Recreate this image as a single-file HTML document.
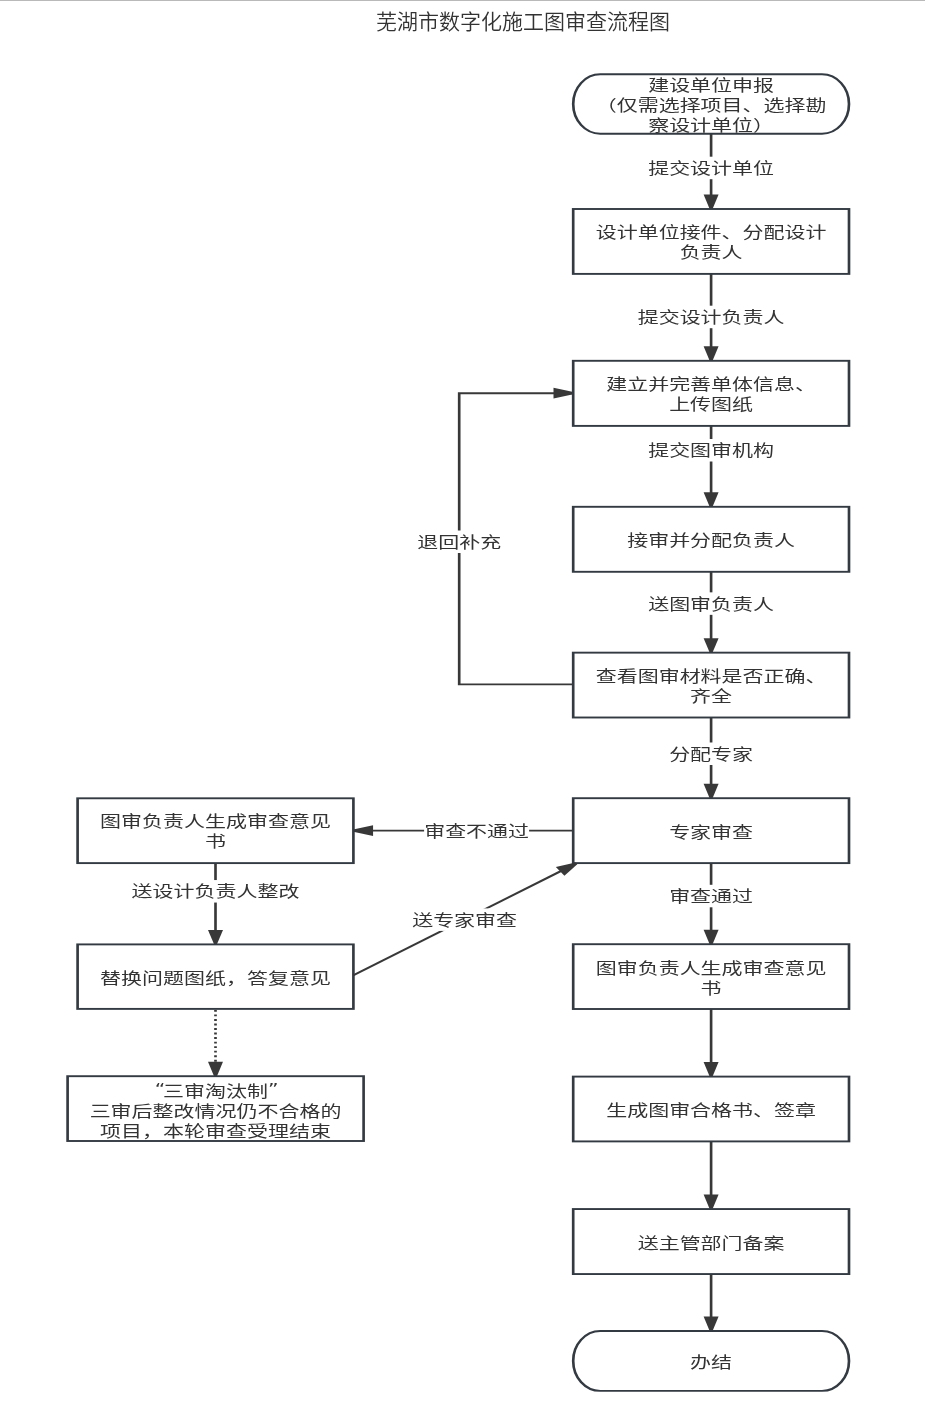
<!DOCTYPE html>
<html lang="zh-CN">
<head>
<meta charset="utf-8">
<title>芜湖市数字化施工图审查流程图</title>
<style>
html,body{margin:0;padding:0;background:#fff;}
body{width:925px;height:1403px;position:relative;overflow:hidden;font-family:"Liberation Sans","Noto Sans CJK SC",sans-serif;}
.topline{position:absolute;left:0;top:0;width:925px;height:1px;background:#b9b9b9;}
h1{position:absolute;left:0;top:6px;width:1046px;margin:0;text-align:center;font-weight:350;font-size:21px;line-height:31px;color:#333;will-change:transform;}
svg{position:absolute;left:0;top:0;filter:blur(0.35px);}
svg .q{font-family:"DejaVu Sans","Liberation Sans",sans-serif;font-size:15px;letter-spacing:-1.6px;}
svg text{font-family:"Liberation Sans","Noto Sans CJK SC",sans-serif;font-size:15.5px;fill:#333333;text-anchor:middle;font-weight:400;}
</style>
</head>
<body>
<div class="topline"></div>
<h1>芜湖市数字化施工图审查流程图</h1>
<svg width="925" height="1403" viewBox="0 0 925 1403">
<g transform="scale(1.4 1)">
<path d="M507.929 133.7 L507.929 208.1" fill="none" stroke="#383838" stroke-width="1.9"/>
<path d="M506.829 208.7 L502.579 194.5 L513.279 194.5 L509.029 208.7 Z" fill="#383838"/>
<path d="M507.929 273.9 L507.929 359.9" fill="none" stroke="#383838" stroke-width="1.9"/>
<path d="M506.829 360.5 L502.579 346.3 L513.279 346.3 L509.029 360.5 Z" fill="#383838"/>
<path d="M507.929 425.9 L507.929 505.9" fill="none" stroke="#383838" stroke-width="1.9"/>
<path d="M506.829 506.5 L502.579 492.3 L513.279 492.3 L509.029 506.5 Z" fill="#383838"/>
<path d="M507.929 571.8 L507.929 651.75" fill="none" stroke="#383838" stroke-width="1.9"/>
<path d="M506.829 652.35 L502.579 638.15 L513.279 638.15 L509.029 652.35 Z" fill="#383838"/>
<path d="M507.929 717.5 L507.929 797.3" fill="none" stroke="#383838" stroke-width="1.9"/>
<path d="M506.829 797.9 L502.579 783.7 L513.279 783.7 L509.029 797.9 Z" fill="#383838"/>
<path d="M507.929 863.1 L507.929 943.3" fill="none" stroke="#383838" stroke-width="1.9"/>
<path d="M506.829 943.9 L502.579 929.7 L513.279 929.7 L509.029 943.9 Z" fill="#383838"/>
<path d="M507.929 1009.0 L507.929 1075.7" fill="none" stroke="#383838" stroke-width="1.9"/>
<path d="M506.829 1076.3 L502.579 1062.1 L513.279 1062.1 L509.029 1076.3 Z" fill="#383838"/>
<path d="M507.929 1141.4 L507.929 1208.15" fill="none" stroke="#383838" stroke-width="1.9"/>
<path d="M506.829 1208.75 L502.579 1194.55 L513.279 1194.55 L509.029 1208.75 Z" fill="#383838"/>
<path d="M507.929 1274.05 L507.929 1330.1" fill="none" stroke="#383838" stroke-width="1.9"/>
<path d="M506.829 1330.7 L502.579 1316.5 L513.279 1316.5 L509.029 1330.7 Z" fill="#383838"/>
<path d="M409.429 684.4 L328.0 684.4 L328.0 393.2 L408.971 393.2" fill="none" stroke="#383838" stroke-width="1.9"/>
<path d="M409.571 394.3 L395.371 398.55 L395.371 387.85 L409.571 392.1 Z" fill="#383838"/>
<path d="M409.429 830.6 L252.886 830.6" fill="none" stroke="#383838" stroke-width="1.9"/>
<path d="M252.286 829.5 L266.486 825.25 L266.486 835.95 L252.286 831.7 Z" fill="#383838"/>
<path d="M153.929 863.1 L153.929 943.5" fill="none" stroke="#383838" stroke-width="1.9"/>
<path d="M152.829 944.1 L148.579 929.9 L159.279 929.9 L155.029 944.1 Z" fill="#383838"/>
<path d="M153.929 1008.9 L153.929 1075.3" fill="none" stroke="#383838" stroke-width="1.9" stroke-dasharray="1.9 2.63" stroke-dashoffset="3.5"/>
<path d="M152.829 1075.9 L148.579 1061.7 L159.279 1061.7 L155.029 1075.9 Z" fill="#383838"/>
<rect x="409.429" y="74.3" width="197.0" height="59.4" rx="19.286" ry="29.7" fill="#fff" stroke="#333a42" stroke-width="1.9"/>
<rect x="409.429" y="209.0" width="197.0" height="64.9" fill="#fff" stroke="#333a42" stroke-width="1.9"/>
<rect x="409.429" y="360.8" width="197.0" height="65.1" fill="#fff" stroke="#333a42" stroke-width="1.9"/>
<rect x="409.429" y="506.8" width="197.0" height="65.0" fill="#fff" stroke="#333a42" stroke-width="1.9"/>
<rect x="409.429" y="652.65" width="197.0" height="64.85" fill="#fff" stroke="#333a42" stroke-width="1.9"/>
<rect x="409.429" y="798.2" width="197.0" height="64.9" fill="#fff" stroke="#333a42" stroke-width="1.9"/>
<rect x="409.429" y="944.2" width="197.0" height="64.8" fill="#fff" stroke="#333a42" stroke-width="1.9"/>
<rect x="409.429" y="1076.6" width="197.0" height="64.8" fill="#fff" stroke="#333a42" stroke-width="1.9"/>
<rect x="409.429" y="1209.05" width="197.0" height="65.0" fill="#fff" stroke="#333a42" stroke-width="1.9"/>
<rect x="409.429" y="1331.0" width="197.0" height="59.9" rx="19.286" ry="29.95" fill="#fff" stroke="#333a42" stroke-width="1.9"/>
<rect x="55.429" y="798.3" width="197.0" height="64.8" fill="#fff" stroke="#333a42" stroke-width="1.9"/>
<rect x="55.429" y="944.4" width="197.0" height="64.5" fill="#fff" stroke="#333a42" stroke-width="1.9"/>
<rect x="48.286" y="1076.2" width="211.429" height="64.8" fill="#fff" stroke="#333a42" stroke-width="1.9"/>
<path d="M252.429 975.3 L411.223 863.645" fill="none" stroke="#383838" stroke-width="1.9"/>
<path d="M412.347 864.2 L403.176 875.844 L397.021 867.091 L411.082 862.4 Z" fill="#383838"/>
<rect x="462.929" y="156.7" width="90.0" height="22.5" fill="#fff"/>
<rect x="455.429" y="305.7" width="105.0" height="22.5" fill="#fff"/>
<rect x="462.929" y="439.0" width="90.0" height="22.5" fill="#fff"/>
<rect x="462.929" y="592.35" width="90.0" height="22.5" fill="#fff"/>
<rect x="477.929" y="742.5" width="60.0" height="22.5" fill="#fff"/>
<rect x="477.929" y="884.8" width="60.0" height="22.5" fill="#fff"/>
<rect x="298.0" y="530.5" width="60.0" height="22.5" fill="#fff"/>
<rect x="302.929" y="819.5" width="75.0" height="22.5" fill="#fff"/>
<rect x="294.357" y="908.4" width="75.0" height="22.5" fill="#fff"/>
<rect x="93.929" y="880.05" width="120.0" height="22.5" fill="#fff"/>
</g>
<g class="t">
<text transform="translate(711.1 90.9) scale(1.3548 1)">建设单位申报</text>
<text transform="translate(711.1 110.9) scale(1.3548 1)">（仅需选择项目、选择勘</text>
<text transform="translate(711.1 130.9) scale(1.3548 1)">察设计单位）</text>
<text transform="translate(711.1 238.3) scale(1.3548 1)">设计单位接件、分配设计</text>
<text transform="translate(711.1 258.3) scale(1.3548 1)">负责人</text>
<text transform="translate(711.1 390.2) scale(1.3548 1)">建立并完善单体信息、</text>
<text transform="translate(711.1 410.2) scale(1.3548 1)">上传图纸</text>
<text transform="translate(711.1 545.9) scale(1.3548 1)">接审并分配负责人</text>
<text transform="translate(711.1 681.7) scale(1.3548 1)">查看图审材料是否正确、</text>
<text transform="translate(711.1 701.7) scale(1.3548 1)">齐全</text>
<text transform="translate(711.1 837.8) scale(1.3548 1)">专家审查</text>
<text transform="translate(711.1 973.5) scale(1.3548 1)">图审负责人生成审查意见</text>
<text transform="translate(711.1 993.5) scale(1.3548 1)">书</text>
<text transform="translate(711.1 1115.9) scale(1.3548 1)">生成图审合格书、签章</text>
<text transform="translate(711.1 1249.4) scale(1.3548 1)">送主管部门备案</text>
<text transform="translate(711.1 1368.3) scale(1.3548 1)">办结</text>
<text transform="translate(215.5 827.4) scale(1.3548 1)">图审负责人生成审查意见</text>
<text transform="translate(215.5 847.4) scale(1.3548 1)">书</text>
<text transform="translate(215.5 984.4) scale(1.3548 1)">替换问题图纸，答复意见</text>
<text transform="translate(215.5 1096.5) scale(1.3548 1)"><tspan class="q" dy="-1.6">“</tspan><tspan dy="1.6">三审淘汰制</tspan><tspan class="q" dy="-1.6">”</tspan></text>
<text transform="translate(215.5 1116.5) scale(1.3548 1)">三审后整改情况仍不合格的</text>
<text transform="translate(215.5 1136.5) scale(1.3548 1)">项目，本轮审查受理结束</text>
<text transform="translate(711.1 173.95) scale(1.3548 1)">提交设计单位</text>
<text transform="translate(711.1 322.95) scale(1.3548 1)">提交设计负责人</text>
<text transform="translate(711.1 456.25) scale(1.3548 1)">提交图审机构</text>
<text transform="translate(711.1 609.6) scale(1.3548 1)">送图审负责人</text>
<text transform="translate(711.1 759.75) scale(1.3548 1)">分配专家</text>
<text transform="translate(711.1 902.05) scale(1.3548 1)">审查通过</text>
<text transform="translate(459.2 547.75) scale(1.3548 1)">退回补充</text>
<text transform="translate(476.6 836.75) scale(1.3548 1)">审查不通过</text>
<text transform="translate(464.6 925.65) scale(1.3548 1)">送专家审查</text>
<text transform="translate(215.5 897.3) scale(1.3548 1)">送设计负责人整改</text>
</g>
</svg>
</body>
</html>
